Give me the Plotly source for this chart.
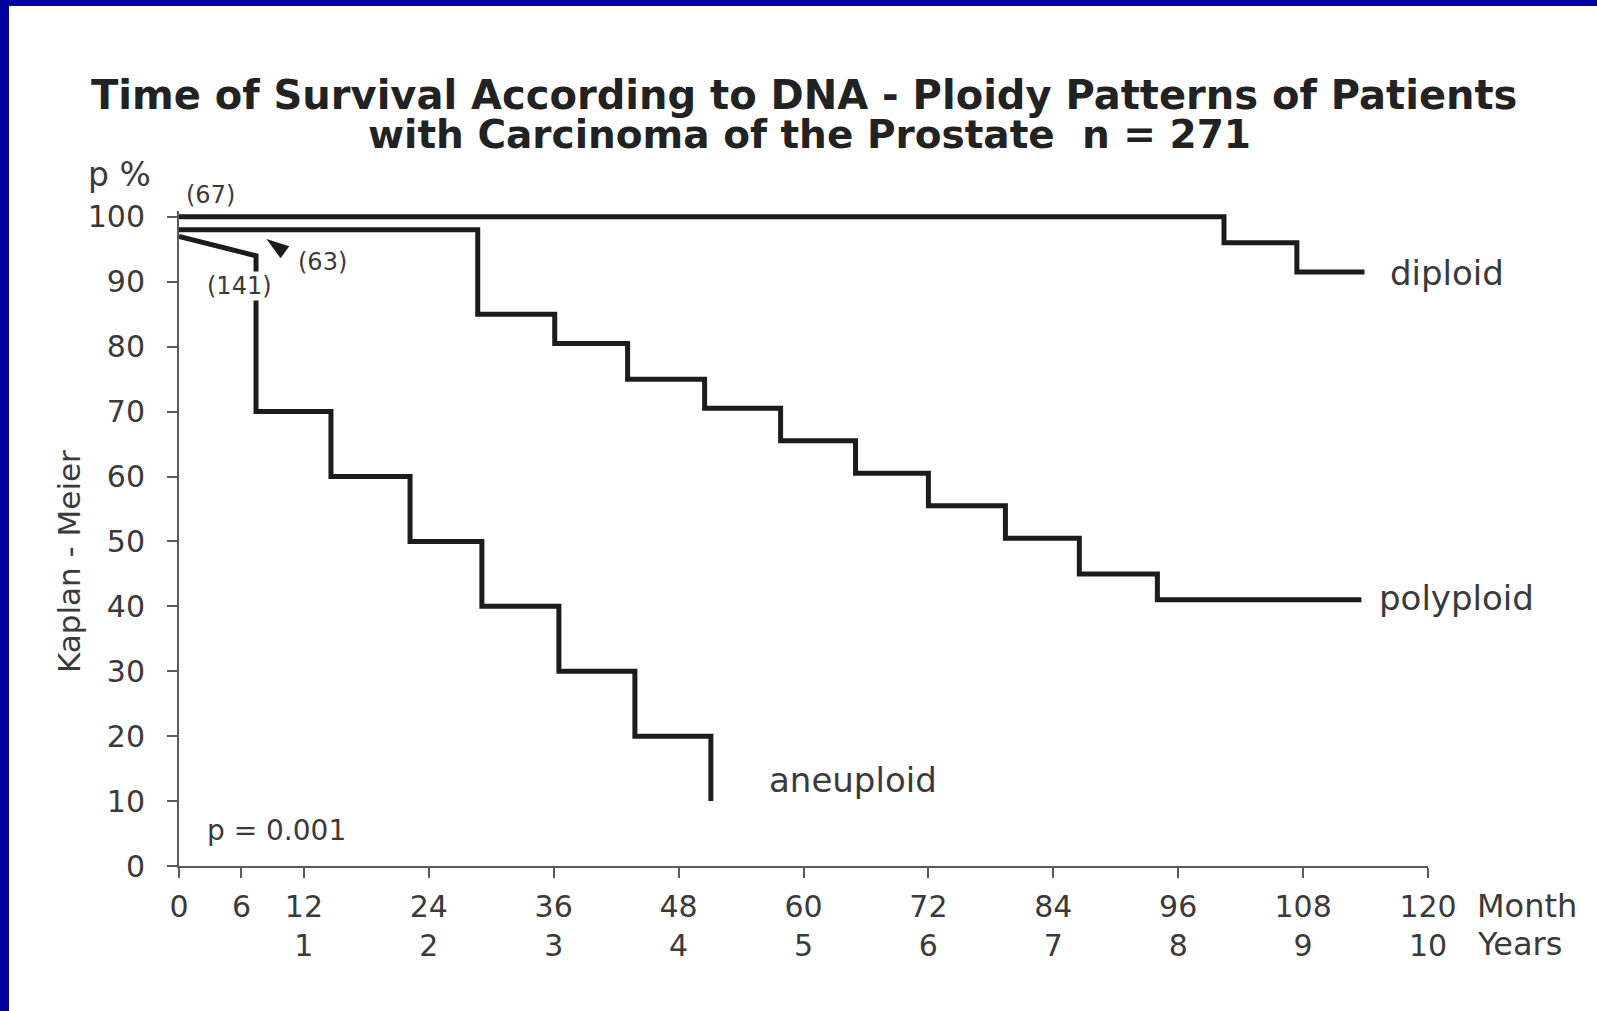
import plotly.graph_objects as go

# ---- Kaplan-Meier survival data (months, p %) ----
# diploid (n=67)
dip_start = 100.0
dip_times = [100.4, 107.4]
dip_surv = [96.0, 91.5]
dip_end = 113.9

# polyploid (n=63)
poly_start = 98.0
poly_times = [28.7, 36.1, 43.1, 50.5, 57.8, 65.0, 72.0, 79.4, 86.5, 94.0]
poly_surv = [85.0, 80.5, 75.0, 70.5, 65.5, 60.5, 55.5, 50.5, 45.0, 41.0]
poly_end = 113.6

# aneuploid (n=141): early decline before the first step
aneu_lead_t = [0.0, 7.4]
aneu_lead_p = [97.0, 94.0]
aneu_times = [7.4, 14.6, 22.2, 29.1, 36.5, 43.8, 51.1]
aneu_surv = [70.0, 60.0, 50.0, 40.0, 30.0, 20.0, 10.0]

month_ticks = [0, 6, 12, 24, 36, 48, 60, 72, 84, 96, 108, 120]
year_ticks = ["", "", "1", "2", "3", "4", "5", "6", "7", "8", "9", "10"]
p_ticks = [0, 10, 20, 30, 40, 50, 60, 70, 80, 90, 100]


def step_path(x_lead, y_lead, times, values, t_end=None):
    """Build the vertices of a right-continuous step curve."""
    xs, ys = list(x_lead), list(y_lead)
    for t, v in zip(times, values):
        xs += [t, t]
        ys += [ys[-1], v]
    if t_end is not None:
        xs.append(t_end)
        ys.append(ys[-1])
    return xs, ys


# ---- page geometry ----
W, H = 1597, 1011
ML, MR, MT, MB = 179, 169, 211, 145
PW, PH = W - ML - MR, H - MT - MB
Y_TOP = 100.9


def px_x(px):
    return (px - ML) / PW


def px_y(py):
    return (H - MB - py) / PH


LINE = "#1c1c1c"
TEXT = "#3a3a3a"
AXIS = "#5a5a5a"
FONT = "DejaVu Sans"

fig = go.Figure()

curves = [
    step_path([0.0], [dip_start], dip_times, dip_surv, dip_end),
    step_path([0.0], [poly_start], poly_times, poly_surv, poly_end),
    step_path(aneu_lead_t, aneu_lead_p, aneu_times, aneu_surv),
]
for xs, ys in curves:
    fig.add_trace(go.Scatter(
        x=xs, y=ys, mode="lines",
        line=dict(color=LINE, width=5, shape="linear"),
        hoverinfo="skip", showlegend=False,
    ))

# arrowhead next to the (63) label
fig.add_trace(go.Scatter(
    x=[8.4], y=[96.6], mode="markers",
    marker=dict(symbol="arrow", size=24, angle=-54, color=LINE,
                line=dict(width=0)),
    hoverinfo="skip", showlegend=False,
))

tick_text = [f"{m}<br>{y}" if y else f"{m}" for m, y in zip(month_ticks, year_ticks)]

fig.update_xaxes(
    range=[0, 120], tickvals=month_ticks, ticktext=tick_text,
    showline=True, linecolor=AXIS, linewidth=2,
    ticks="outside", ticklen=10, tickwidth=2, tickcolor=AXIS,
    tickfont=dict(family=FONT, size=30, color=TEXT),
    ticklabelstandoff=3,
    showgrid=False, zeroline=False, layer="below traces",
)
fig.update_yaxes(
    range=[0, Y_TOP], tickvals=p_ticks,
    showline=True, linecolor=AXIS, linewidth=2,
    ticks="outside", ticklen=10, tickwidth=2, tickcolor=AXIS,
    tickfont=dict(family=FONT, size=30, color=TEXT),
    ticklabelstandoff=16,
    showgrid=False, zeroline=False, layer="below traces",
)

ann = []


def label(text, x, y, size, xanchor="center", xref="x", yref="y", **kw):
    ann.append(dict(text=text, x=x, y=y, xref=xref, yref=yref,
                    xanchor=xanchor, yanchor="middle", showarrow=False,
                    font=dict(family=kw.pop("family", FONT), size=size,
                              color=kw.pop("color", TEXT)), **kw))


# curve names and counts
label("diploid", 116.2, 91.4, 34, xanchor="left")
label("polyploid", 115.1, 41.3, 34, xanchor="left")
label("aneuploid", 56.5, 13.3, 34, xanchor="left")
label("(67)", px_x(210), px_y(195), 24, xref="paper", yref="paper")
label("(63)", 13.8, 93.1, 24)
label("(141)", 5.8, 89.3, 24, bgcolor="white", borderpad=0)
label("p = 0.001", 2.5, 5.5, 28, xanchor="left")

# axis captions
label("p %", px_x(86), px_y(174), 33, xanchor="left", xref="paper", yref="paper")
label("Kaplan - Meier", px_x(69), px_y(562), 31, xref="paper", yref="paper",
      textangle=-90)
label("Month", px_x(1475), px_y(906), 32, xanchor="left", xref="paper", yref="paper")
label("Years", px_x(1475), px_y(944), 32, xanchor="left", xref="paper", yref="paper")

# title
label("<b>Time of Survival According to DNA - Ploidy Patterns of Patients</b>",
      px_x(804), px_y(95), 40, xref="paper", yref="paper", color="#222222")
label("<b>with Carcinoma of the Prostate  n = 271</b>",
      px_x(809), px_y(134), 39, xref="paper", yref="paper", color="#222222")

# slide frame: blue band along the top and left edges
BLUE = "#02029c"
shapes = [
    dict(type="rect", xref="paper", yref="paper", layer="above",
         x0=px_x(0), x1=px_x(W), y0=px_y(6), y1=px_y(0),
         fillcolor=BLUE, line=dict(width=0)),
    dict(type="rect", xref="paper", yref="paper", layer="above",
         x0=px_x(0), x1=px_x(9), y0=px_y(H), y1=px_y(0),
         fillcolor=BLUE, line=dict(width=0)),
]

fig.update_layout(
    width=W, height=H,
    margin=dict(l=ML, r=MR, t=MT, b=MB, autoexpand=False),
    paper_bgcolor="white", plot_bgcolor="white",
    annotations=ann, shapes=shapes, showlegend=False,
)

fig.write_html("out.html", include_plotlyjs=True, config={"displayModeBar": False})
